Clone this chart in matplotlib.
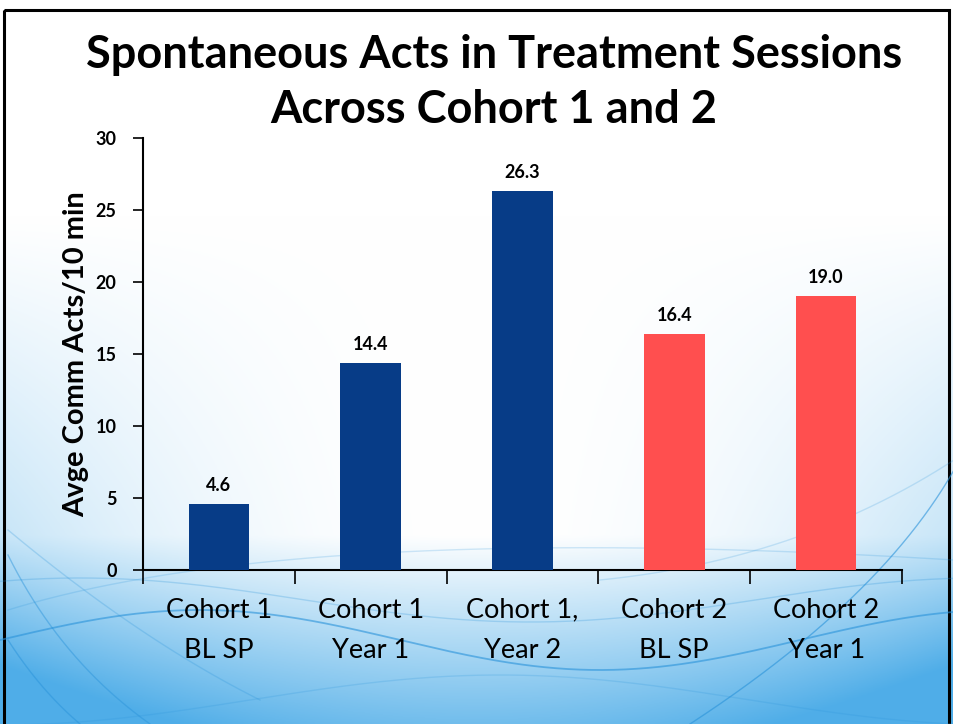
import numpy as np
import matplotlib
matplotlib.use("Agg")
import matplotlib.pyplot as plt
from matplotlib.patches import Rectangle

categories = ["Cohort 1\nBL SP", "Cohort 1\nYear 1", "Cohort 1,\nYear 2", "Cohort 2\nBL SP", "Cohort 2\nYear 1"]
values = [4.6, 14.4, 26.3, 16.4, 19.0]
value_labels = ["4.6", "14.4", "26.3", "16.4", "19.0"]
colors = ["#073C87", "#073C87", "#073C87", "#FF4F4F", "#FF4F4F"]
yticks = [0, 5, 10, 15, 20, 25, 30]

FONT = "Lato"
W, H = 954, 724
fig = plt.figure(figsize=(W / 100, H / 100), dpi=100)

# background gradient (decorative)
bg = fig.add_axes([0, 0, 1, 1], zorder=-10)
yy, xx = np.mgrid[0:1:300j, 0:1:400j]
base = np.clip((yy - 0.74) / 0.26, 0, 1) * 0.8
w = np.abs(xx - 0.5) * 2
edge = w ** 2 * np.clip((yy - 0.3) / 0.7, 0, 1) * 0.5
t = np.clip(base + edge, 0, 1)
c0 = np.array([1.0, 1.0, 1.0])
c1 = np.array([0.31, 0.68, 0.91])
img = c0[None, None, :] * (1 - t[..., None]) + c1[None, None, :] * t[..., None]
bg.imshow(img, extent=[0, W, H, 0], aspect="auto")


def bez(p0, p1, p2, n=200):
    s = np.linspace(0, 1, n)[:, None]
    p0, p1, p2 = map(np.array, (p0, p1, p2))
    pts = (1 - s) ** 2 * p0 + 2 * (1 - s) * s * p1 + s ** 2 * p2
    return pts[:, 0], pts[:, 1]


wc = "#2A93DA"
xs = np.linspace(0, W, 500)
bg.plot(xs, 640 - 30 * np.cos(2 * np.pi * (xs - 200) / 800), color=wc, lw=1.3, alpha=0.6)
bg.plot(xs, 600 - 22 * np.cos(2 * np.pi * (xs - 80) / 900), color=wc, lw=1.0, alpha=0.25)
bg.plot(xs, 700 - 25 * np.cos(2 * np.pi * (xs - 500) / 1000), color=wc, lw=1.0, alpha=0.2)
for p0, p1, p2, a in [((690, 724), (880, 600), (954, 470), 0.6),
                      ((8, 555), (60, 660), (150, 724), 0.45),
                      ((8, 530), (140, 640), (260, 700), 0.25),
                      ((8, 640), (40, 690), (80, 724), 0.5),
                      ((8, 610), (300, 520), (954, 560), 0.2),
                      ((600, 580), (800, 560), (954, 460), 0.2)]:
    bx, by = bez(p0, p1, p2)
    bg.plot(bx, by, color=wc, lw=1.0, alpha=a)
bg.set_xlim(0, W)
bg.set_ylim(H, 0)
bg.axis("off")
bg.add_patch(Rectangle((4.5, 9.5), W - 9, H + 10, fill=False, edgecolor="black", lw=2.2))

ax = fig.add_axes([143 / W, 1 - 570 / H, (902 - 143) / W, (570 - 138) / H])
ax.patch.set_alpha(0)
x = np.arange(len(categories))
ax.bar(x, values, width=0.4, color=colors, zorder=3)
for xi, v, lab in zip(x, values, value_labels):
    ax.text(xi, v + 0.7, lab, ha="center", va="bottom", fontsize=13, fontweight="bold",
            family=FONT, color="black")

ax.set_xlim(-0.5, len(categories) - 0.5)
ax.set_ylim(0, 30)
ax.set_yticks(yticks)
ax.set_yticklabels([str(v) for v in yticks], fontsize=13, fontweight="bold", family=FONT)
ax.set_xticks(np.arange(-0.5, len(categories), 1.0))
ax.set_xticklabels([])
ax.set_xticks(x, minor=True)
ax.set_xticklabels(categories, minor=True, fontsize=19.5, family=FONT, linespacing=1.78)
ax.tick_params(axis="x", which="major", direction="out", length=10, width=1.2)
ax.tick_params(axis="x", which="minor", length=0, pad=20)
ax.tick_params(axis="y", direction="out", length=7, width=1.2, pad=12)
for s in ["top", "right"]:
    ax.spines[s].set_visible(False)
for s in ["left", "bottom"]:
    ax.spines[s].set_linewidth(1.5)
ax.set_ylabel("Avge Comm Acts/10 min", fontsize=21, fontweight="bold", family=FONT, labelpad=5)

fig.text(494 / W, 1 - 55 / H, "Spontaneous Acts in Treatment Sessions", ha="center", va="center",
         fontsize=32.5, fontweight="bold", family=FONT)
fig.text(494 / W, 1 - 110 / H, "Across Cohort 1 and 2", ha="center", va="center",
         fontsize=32.5, fontweight="bold", family=FONT)

fig.savefig("out.png", dpi=100)
